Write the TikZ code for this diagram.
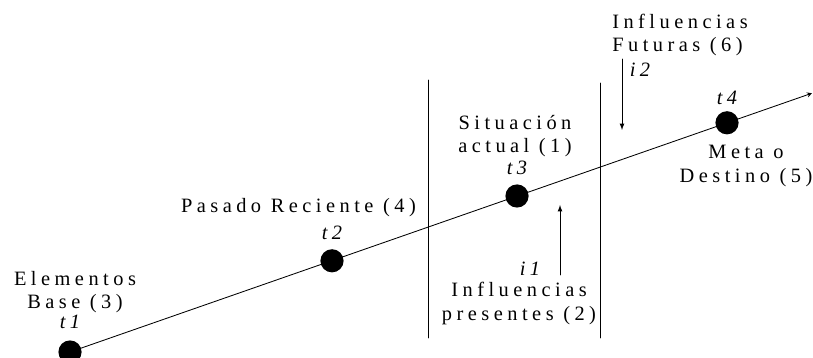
\documentclass[tikz,border=0pt]{standalone}
\usepackage{fontspec}
\setmainfont{Liberation Serif}[LetterSpace=22]
\usepackage{tkz-euclide}
\usetikzlibrary{arrows,calc}

\tikzset{lbl/.style={align=center,inner sep=0pt,font=\fontsize{14.5}{16.6}\selectfont},
  tlbl/.style={inner sep=0pt,font=\fontsize{14.5}{16.6}\selectfont\itshape}}

\begin{document}
\begin{tikzpicture}
\useasboundingbox (0,0) rectangle (20.325,8.95);
\tkzSetUpLine[line width=0.6pt,color=black]

\tkzDefPoints{1.75/0.15/T1,8.30/2.43/T2,12.925/4.05/T3,18.175/5.88/T4,20.30/6.62/E}
\tkzDefPoints{10.70/6.95/LA,10.70/0.5/LB,15.0/6.875/RA,15.0/0.5/RB}
\tkzDefPoints{14.0/2.075/IA,14.0/3.825/IB,15.55/7.475/JA,15.55/5.7/JB}

\tkzDrawSegments(LA,LB RA,RB)
\tkzDrawSegment[-stealth](T1,E)
\tkzDrawSegments[-latex](IA,IB JA,JB)

\foreach \p in {T1,T2,T3,T4}
  \fill[black] (\p) circle (0.29);

\node[lbl] (base) at (1.875,1.65) {Elementos\\Base (3)};
\node[tlbl] (t1) at (1.75,0.90) {t1};
\node[lbl] (pasado) at (7.46,3.75) {Pasado Reciente (4)};
\node[tlbl] (t2) at (8.30,3.125) {t2};
\node[lbl] (actual) at (12.875,5.54) {Situación\\actual (1)};
\node[tlbl] (t3) at (12.925,4.75) {t3};
\node[tlbl] (i1) at (13.25,2.22) {i1};
\node[lbl] (presentes) at (12.975,1.36) {Influencias\\presentes (2)};
\node[lbl,align=left,anchor=west] (futuras) at (15.3,8.075) {Influencias\\Futuras (6)};
\node[tlbl] (i2) at (16.0,7.2) {i2};
\node[tlbl] (t4) at (18.175,6.5) {t4};
\node[lbl] (meta) at (18.65,4.8) {Meta o\\Destino (5)};

\end{tikzpicture}
\end{document}
